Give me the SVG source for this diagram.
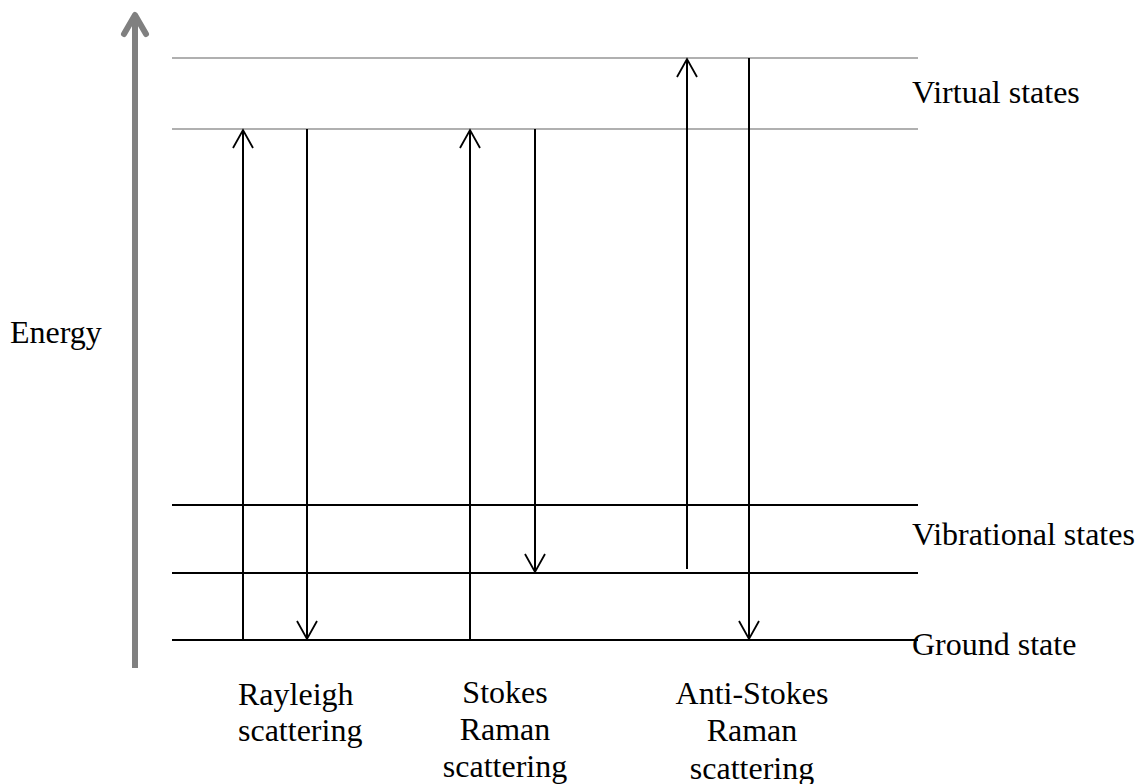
<svg xmlns="http://www.w3.org/2000/svg" width="1137" height="784" viewBox="0 0 1137 784">
<style>
.t{font-family:"Liberation Serif","Times New Roman",serif;font-size:32px;fill:#000}
.c{text-anchor:middle}
.v{stroke:#b0b0b0;stroke-width:2}
.l{stroke:#000;stroke-width:2}
.a{stroke:#000;stroke-width:2;fill:none}
</style>
<defs>
<marker id="ah" markerUnits="userSpaceOnUse" markerWidth="22" markerHeight="22" refX="20" refY="11" orient="auto" viewBox="0 0 22 22">
<path d="M2,1 L20,11 L2,21" fill="none" stroke="#000" stroke-width="1.8"/>
</marker>
</defs>
<g id="energy-axis">
<line x1="135" y1="668" x2="135" y2="16" stroke="#808080" stroke-width="6"/>
<path d="M124,34 L135,15 L146,34" fill="none" stroke="#808080" stroke-width="6" stroke-linecap="round" stroke-linejoin="round"/>
<text class="t" x="10" y="343">Energy</text>
</g>
<g id="levels">
<line class="v" x1="172" y1="58" x2="918" y2="58"/>
<line class="v" x1="172" y1="129" x2="918" y2="129"/>
<line class="l" x1="172" y1="505" x2="918" y2="505"/>
<line class="l" x1="172" y1="573" x2="918" y2="573"/>
<line class="l" x1="172" y1="640" x2="918" y2="640"/>
</g>
<g id="connectors">
<line class="a" x1="243" y1="640" x2="243" y2="130" marker-end="url(#ah)"/>
<line class="a" x1="307" y1="129" x2="307" y2="639" marker-end="url(#ah)"/>
<line class="a" x1="470" y1="640" x2="470" y2="130" marker-end="url(#ah)"/>
<line class="a" x1="535" y1="129" x2="535" y2="572" marker-end="url(#ah)"/>
<line class="a" x1="687" y1="569" x2="687" y2="59" marker-end="url(#ah)"/>
<line class="a" x1="749" y1="58" x2="749" y2="639" marker-end="url(#ah)"/>
</g>
<g id="labels">
<text class="t" x="912" y="103">Virtual states</text>
<text class="t" x="912" y="545">Vibrational states</text>
<text class="t" x="912" y="655">Ground state</text>
</g>
<g id="rayleigh">
<text class="t" x="238" y="705">Rayleigh</text>
<text class="t" x="238" y="741">scattering</text>
</g>
<g id="stokes">
<text class="t c" x="505" y="703">Stokes</text>
<text class="t c" x="505" y="740">Raman</text>
<text class="t c" x="505" y="777">scattering</text>
</g>
<g id="anti-stokes">
<text class="t c" x="752" y="704">Anti-Stokes</text>
<text class="t c" x="752" y="741">Raman</text>
<text class="t c" x="752" y="779">scattering</text>
</g>
</svg>
